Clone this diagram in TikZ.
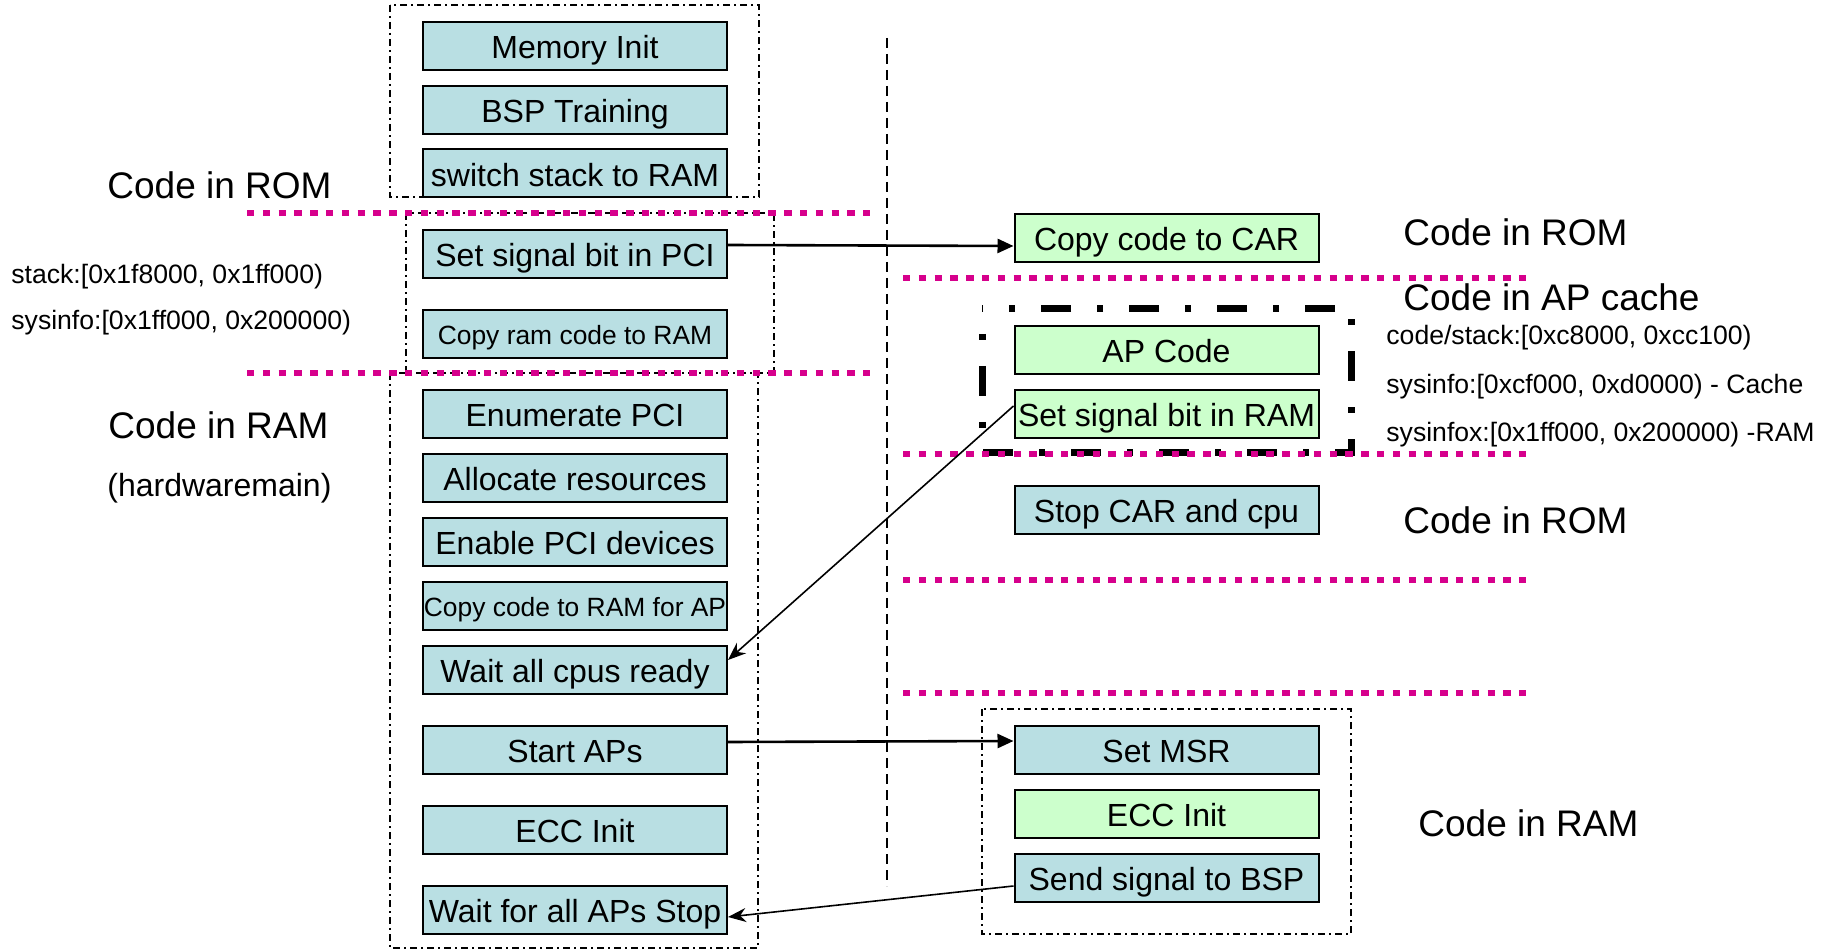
\documentclass[tikz,border=0pt]{standalone}
\usepackage{fontspec}
\setmainfont{Liberation Sans}
\usetikzlibrary{arrows.meta, positioning, calc}
\definecolor{stepblue}{RGB}{185,223,227}
\definecolor{stepgreen}{RGB}{204,255,204}
\definecolor{divpink}{RGB}{214,0,140}

\tikzset{
  bspbox/.style={draw, line width=1pt, fill=stepblue, minimum width=152pt, minimum height=24pt, inner sep=0pt,
    text height=12.8pt, text depth=0pt, font=\fontsize{16}{18}\selectfont},
  apbox/.style={bspbox, fill=stepgreen},
  smalltxt/.style={text height=11pt, font=\fontsize{13.2}{15}\selectfont},
  zone/.style={anchor=west, inner sep=0pt, font=\fontsize{18.5}{22}\selectfont},
  memnote/.style={anchor=west, inner sep=0pt, font=\fontsize{13.3}{16}\selectfont},
  grpbox/.style={line width=1pt, dash pattern=on 3.5pt off 2pt on 1pt off 2pt},
  cachebox/.style={line width=3.5pt, dash pattern=on 15pt off 13pt on 3pt off 13pt, dash phase=15.5pt},
  divider/.style={divpink, line width=3.35pt, dash pattern=on 3.65pt off 4.25pt},
  signal/.style={line width=1.3pt, -{Triangle[length=8pt,width=7pt]}},
  reply/.style={line width=0.8pt, -{Stealth[length=9pt,width=7pt]}},
}

\begin{document}
\begin{tikzpicture}[x=0.5pt, y=-0.5pt]
  \useasboundingbox (0,0) rectangle (1831,951);

  % BSP side
  \node[bspbox] (meminit) at (575,46) {Memory Init};
  \node[bspbox] (bsptrain) at (575,110) {BSP Training};
  \node[bspbox] (switchstk) at (575,173.5) {switch stack to RAM};
  \node[bspbox] (sigpci) at (575,254) {Set signal bit in PCI};
  \node[bspbox, smalltxt] (copyram) at (575,334) {Copy ram code to RAM};
  \node[bspbox] (enumpci) at (575,414) {Enumerate PCI};
  \node[bspbox] (allocres) at (575,478) {Allocate resources};
  \node[bspbox] (enabledev) at (575,542) {Enable PCI devices};
  \node[bspbox, smalltxt] (copyap) at (575,606) {Copy code to RAM for AP};
  \node[bspbox] (waitcpu) at (575,670) {Wait all cpus ready};
  \node[bspbox] (startap) at (575,750) {Start APs};
  \node[bspbox] (eccbsp) at (575,830) {ECC Init};
  \node[bspbox] (waitstop) at (575,910) {Wait for all APs Stop};

  % AP side
  \node[apbox] (copycar) at (1166.5,238) {Copy code to CAR};
  \node[apbox] (apcode) at (1166.5,350) {AP Code};
  \node[apbox] (sigram) at (1166.5,414) {Set signal bit in RAM};
  \node[bspbox] (stopcar) at (1166.5,510) {Stop CAR and cpu};
  \node[bspbox] (setmsr) at (1166.5,750) {Set MSR};
  \node[apbox] (eccap) at (1166.5,814) {ECC Init};
  \node[bspbox] (sendsig) at (1166.5,878) {Send signal to BSP};

  % groups
  \draw[grpbox] (390,5) rectangle (759,197);
  \draw[grpbox] (406,213) rectangle (774,373);
  \draw[grpbox] (390,373) rectangle (758,948);
  \draw[cachebox] (982,309) rectangle (1351,453);
  \draw[grpbox] (982,709) rectangle (1351,934);

  \draw[line width=1.2pt, dash pattern=on 5pt off 3pt] (887,38) -- (887,886);

  % region dividers
  \draw[divider] (247,213) -- (870,213);
  \draw[divider] (247,373) -- (870,373);
  \foreach \yy in {278,454,580,693}
    \draw[divider] (903,\yy) -- (1526,\yy);

  % labels
  \node[zone] (romlbl) at (107,185) {Code in ROM};
  \node[memnote] (stacklbl) at (11,277) {stack:[0x1f8000, 0x1ff000)};
  \node[memnote] (sysinfolbl) at (11,323) {sysinfo:[0x1ff000, 0x200000)};
  \node[zone] (ramlbl) at (108,425) {Code in RAM};
  \node[zone, font=\fontsize{16}{19}\selectfont] (hwmainlbl) at (107,488) {(hardwaremain)};
  \node[zone] (aprom) at (1403,232) {Code in ROM};
  \node[zone] (apcache) at (1403,297) {Code in AP cache};
  \node[memnote] (apstack) at (1386,338) {code/stack:[0xc8000, 0xcc100)};
  \node[memnote] (apsysinfo) at (1386,387) {sysinfo:[0xcf000, 0xd0000) - Cache};
  \node[memnote] (apsysinfox) at (1386,435) {sysinfox:[0x1ff000, 0x200000) -RAM};
  \node[zone] (aprom2) at (1403,520) {Code in ROM};
  \node[zone] (apram) at (1418,823) {Code in RAM};

  % signals
  \draw[signal] ([yshift=4.5pt]sigpci.east) -- ([yshift=-4pt]copycar.west);
  \draw[signal] ([yshift=4pt]startap.east) -- ([yshift=4.5pt]setmsr.west);
  \draw[reply] ([yshift=4pt]sigram.west) -- ([yshift=5pt]waitcpu.east);
  \draw[reply] ([yshift=-4pt]sendsig.west) -- ([yshift=-3.5pt]waitstop.east);
\end{tikzpicture}
\end{document}
